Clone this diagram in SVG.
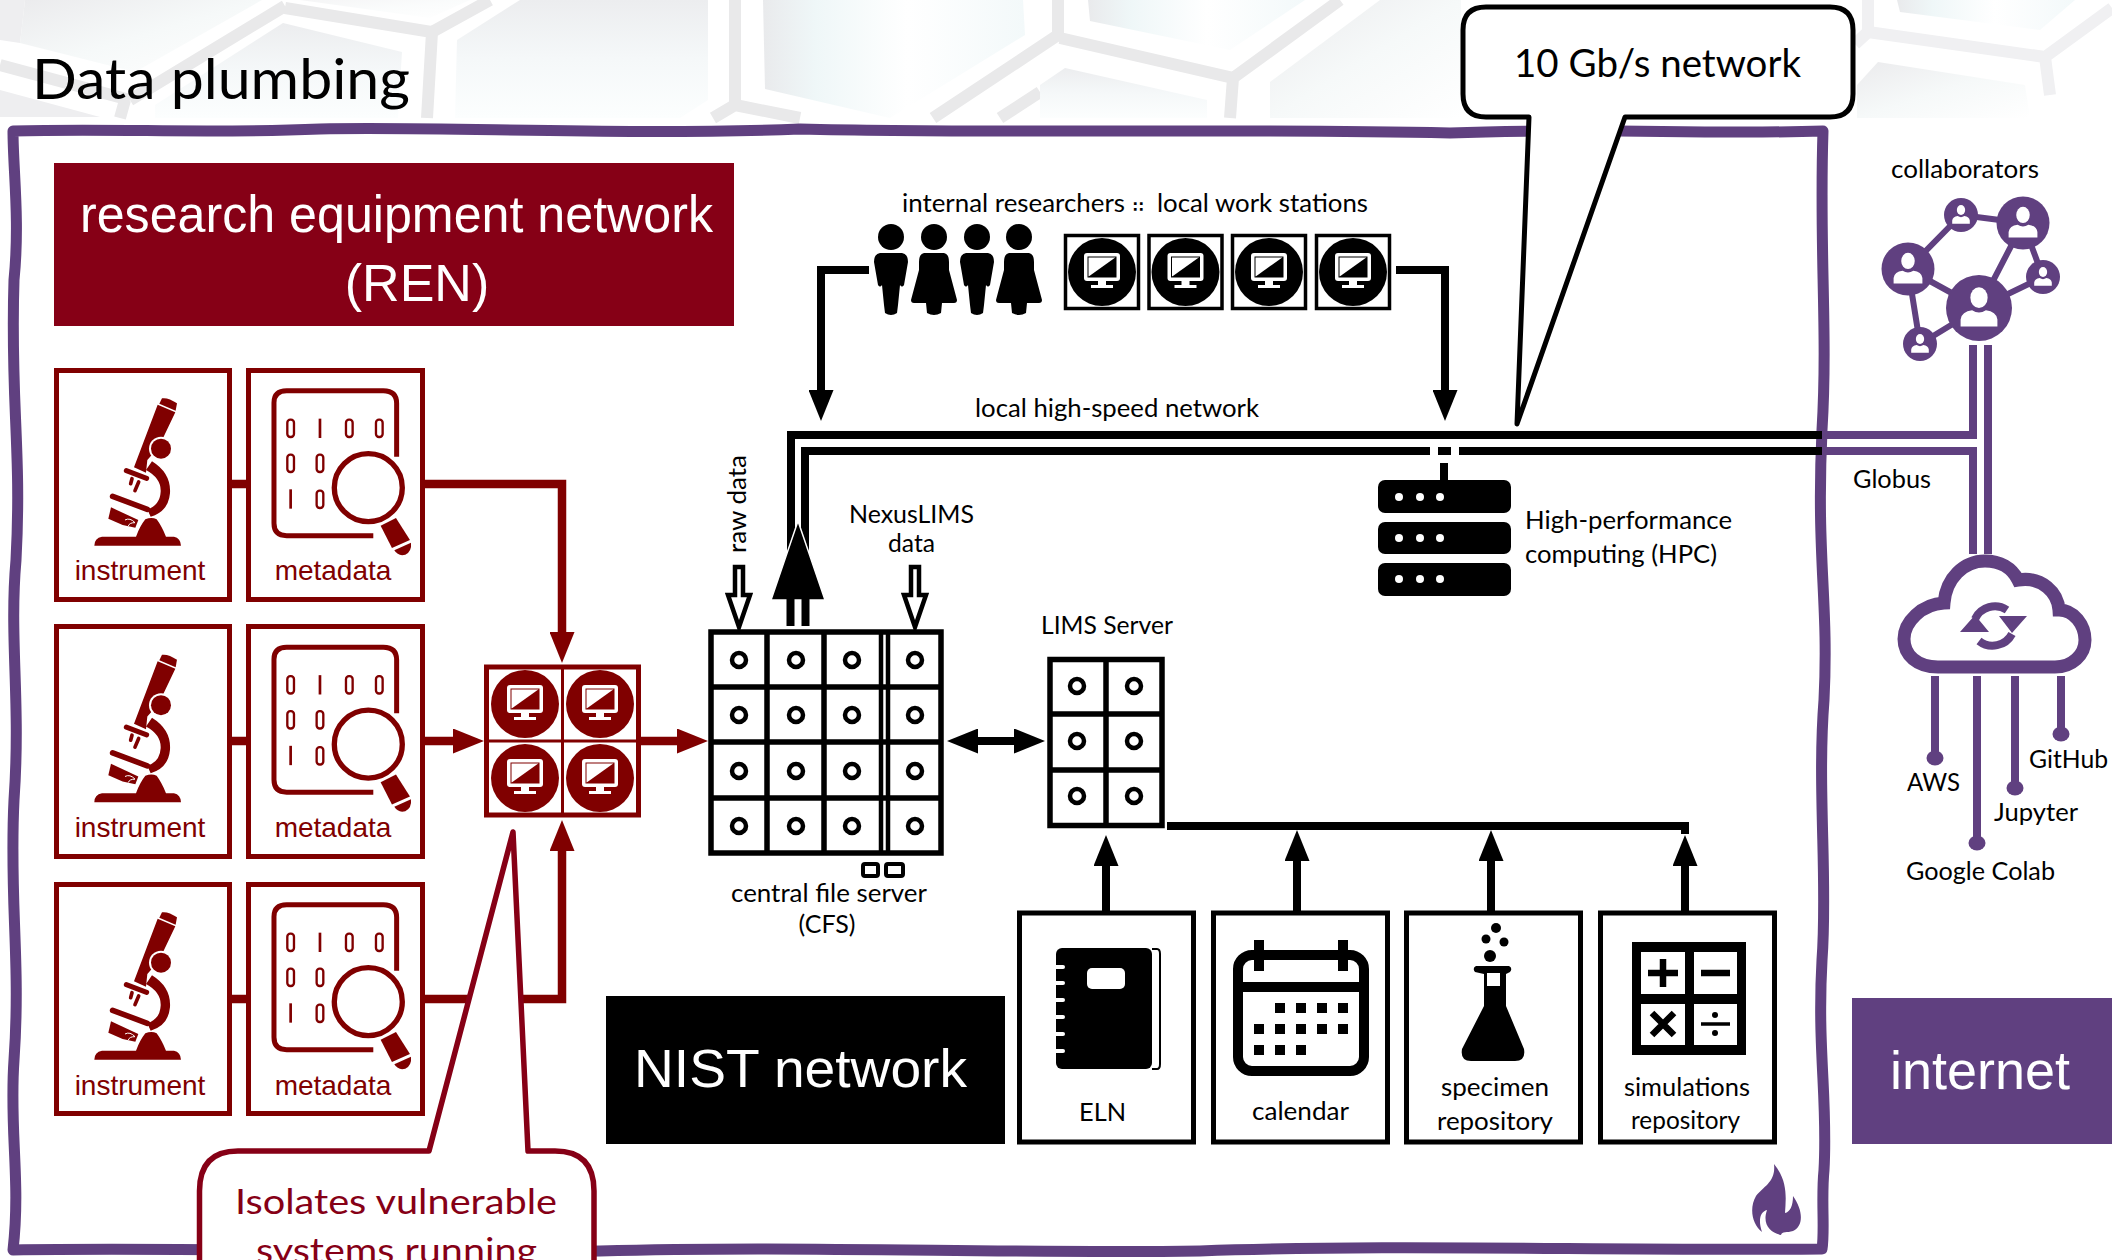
<svg xmlns="http://www.w3.org/2000/svg" width="2112" height="1260" viewBox="0 0 2112 1260">
<style>
.l{font-family:Lato,"Liberation Sans",sans-serif}
.a{font-family:"Liberation Sans",Arial,sans-serif}
.s{font-size:25px;fill:#000}
.m{font-size:28px;fill:#800000;text-anchor:middle}
.w{fill:#fff}
.box{fill:#fff;stroke:#800000;stroke-width:5}
.kbox{fill:#fff;stroke:#000;stroke-width:5}
.grid{fill:none;stroke:#000;stroke-width:5.5}
.ring{fill:none;stroke:#000;stroke-width:4.5}
.ml{fill:none;stroke:#800000;stroke-width:8.5}
.kl{fill:none;stroke:#000;stroke-width:8}
.pl{fill:none;stroke:#604080;stroke-width:8}
.band{fill:none;stroke:#e9e9ea;stroke-width:12}
.band2{fill:none;stroke:#f0f0f2;stroke-width:12}
</style>
<defs>
<linearGradient id="cell" x1="0" y1="0" x2="0" y2="1"><stop offset="0" stop-color="#ecedef"/><stop offset=".5" stop-color="#f5f8f9"/><stop offset="1" stop-color="#fcfefe"/></linearGradient>
<linearGradient id="cell2" x1="0" y1="0" x2="1" y2="0"><stop offset="0" stop-color="#e9eaec"/><stop offset=".2" stop-color="#eff7f8"/><stop offset=".55" stop-color="#fff"/><stop offset="1" stop-color="#f3f9fa"/></linearGradient>
<linearGradient id="cell3" x1="0" y1="0" x2="1" y2="1"><stop offset="0" stop-color="#ebebed"/><stop offset=".5" stop-color="#f6f9f9"/><stop offset="1" stop-color="#fff"/></linearGradient>
<marker id="ah" markerUnits="userSpaceOnUse" markerWidth="31" markerHeight="25" refX="11" refY="12.5" orient="auto-start-reverse"><path d="M0 0L31 12.5L0 25Z" fill="#000"/></marker>
<marker id="am" markerUnits="userSpaceOnUse" markerWidth="31" markerHeight="25" refX="11" refY="12.5" orient="auto-start-reverse"><path d="M0 0L31 12.5L0 25Z" fill="#800000"/></marker>
<g id="scope" fill="#800000" stroke="none">
<path d="M103 557Q103 534 126 530L228 530Q240 498 256 478Q275 470 290 478Q305 498 318 530L342 530Q362 534 363 557Z"/>
<path d="M276 304Q334 340 330 400Q325 455 272 470L262 448Q300 435 302 395Q304 355 258 330Z"/>
<path d="M293 134L346 157L296 262L262 300L258 338L222 322Z"/>
<path d="M306 115Q325 112 351 130L347 152L298 131Z"/>
<circle cx="303" cy="266" r="36" fill="#fff"/><circle cx="303" cy="266" r="30"/>
<path d="M199 332L260 355" stroke="#800000" stroke-width="15" stroke-linecap="round" fill="none"/>
<path d="M216 356L212 371M236 366L225 392" stroke="#800000" stroke-width="11" stroke-linecap="round" fill="none"/>
<path d="M158 409L262 448" stroke="#800000" stroke-width="17" stroke-linecap="round" fill="none"/>
<path d="M153 442L235 480L226 503L188 495L145 476Z"/>
<path d="M195 480Q210 472 225 488Q208 488 205 498" stroke="#fff" stroke-width="3" fill="none"/>
</g>
<g id="meta" fill="#800000">
<path d="M940 527L680 527Q642 527 642 490L642 128Q642 92 680 92L970 92Q1010 92 1010 130L1010 290" fill="none" stroke="#800000" stroke-width="15"/>
<rect x="682" y="179" width="20" height="52" rx="9" fill="none" stroke="#800000" stroke-width="7"/>
<rect x="776" y="176" width="8" height="58"/>
<rect x="858" y="179" width="20" height="52" rx="9" fill="none" stroke="#800000" stroke-width="7"/>
<rect x="948" y="179" width="20" height="52" rx="9" fill="none" stroke="#800000" stroke-width="7"/>
<rect x="682" y="284" width="20" height="52" rx="9" fill="none" stroke="#800000" stroke-width="7"/>
<rect x="770" y="284" width="20" height="52" rx="9" fill="none" stroke="#800000" stroke-width="7"/>
<rect x="688" y="388" width="8" height="58"/>
<rect x="770" y="392" width="20" height="52" rx="9" fill="none" stroke="#800000" stroke-width="7"/>
<circle cx="925" cy="383" r="110" fill="#fff"/>
<circle cx="925" cy="383" r="102" fill="none" stroke="#800000" stroke-width="16"/>
<path d="M962 497L1008 474L1050 540L996 564Z"/>
<path d="M1003 571L1053 548Q1056 574 1036 584Q1015 590 1003 571Z"/>
</g>
<g id="mon" style="color:inherit">
<rect x="-18" y="-17" width="36" height="28" rx="3" fill="#fff"/>
<rect x="-14" y="-13" width="28" height="20" fill="#fff" stroke="currentColor" stroke-width="1"/>
<path d="M-14 7L14 -13V7Z" fill="currentColor"/>
<rect x="-4" y="11" width="8" height="6" fill="#fff"/>
<rect x="-11" y="15" width="22" height="3" fill="#fff"/>
</g>
<path id="male" d="M-11 253H11Q17 254 17 262L13 285Q11 288 9 285L7 305L6 313Q0 317 -6 313L-7 305L-9 285Q-11 288 -13 285L-17 262Q-17 254 -11 253Z"/>
<path id="female" d="M-10 253H10Q15 254 15 262L15 270L23 300Q23 303 20 303L8 303L7 313Q0 317 -7 313L-8 303L-20 303Q-23 303 -23 300L-15 270L-15 262Q-15 254 -10 253Z"/>
<g id="pers" fill="#fff"><ellipse cx="0" cy="-9" rx="7.5" ry="9"/><path d="M-16 16V10Q-15 3 -6 2Q0 6 6 2Q15 3 16 10V16Z"/></g>
</defs>

<rect width="2112" height="1260" fill="#fff"/>
<g id="background">
<path d="M0 0H25L20 43L0 40Z" fill="#eeeef0"/>
<path d="M25 0L20 43L135 72L262 0Z" fill="url(#cell3)"/>
<path d="M0 90L100 117H0Z" fill="#eeeef0"/>
<path d="M155 105L283 23L402 52L398 118H155Z" fill="url(#cell)"/>
<path d="M0 65L130 100M125 100L120 118M130 100L285 6M285 8L432 32L427 118M432 32L490 0" class="band"/>
<path d="M300 0L430 18L470 0Z" fill="url(#cell3)" opacity=".5"/>
<path d="M457 40L520 0H708V100L680 118H455Z" fill="url(#cell)"/>
<path d="M735 0V105L713 118M735 105L800 118" class="band"/>
<path d="M763 0L765 89L890 118L1025 35L1023 0Z" fill="url(#cell2)"/>
<path d="M933 118L1040 47L1058 35V0M1060 38L1233 78L1230 118M1233 78L1340 0" class="band"/>
<path d="M1000 118L1040 92" class="band"/>
<path d="M1088 0L1090 21L1230 50L1305 0Z" fill="url(#cell2)"/>
<path d="M1040 85L1065 68L1207 100V118H1040Z" fill="url(#cell)"/>
<path d="M1270 82L1380 0H1461V118H1270Z" fill="url(#cell3)"/>
<path d="M1868 0V32L1855 44M1868 32L2045 57L2050 95M2045 57L2112 8" class="band2"/>
<path d="M1897 0L1900 12L2040 30L2075 0Z" fill="url(#cell2)"/>
<path d="M1857 85L1878 62L2025 85L2030 118H1857Z" fill="url(#cell3)"/>
</g>
<text id="title" class="l" x="32" y="99" font-size="57" fill="#000" textLength="378" lengthAdjust="spacingAndGlyphs">Data plumbing</text>

<path id="frame" fill="none" stroke="#604080" stroke-width="11" stroke-linejoin="round" d="M13 131C120 128 200 134 320 129C440 126 620 136 800 129C1000 134 1200 128 1450 133C1600 127 1700 135 1823 131C1819 250 1828 330 1822 430C1816 560 1829 600 1824 700C1817 790 1828 880 1822 960C1817 1050 1828 1100 1824 1170C1821 1200 1825 1230 1822 1249C1600 1251 1400 1244 1200 1251C1000 1254 800 1245 600 1251C400 1254 200 1247 13 1250C21 1180 9 1130 14 1060C21 960 9 900 14 800C21 700 9 640 16 560C22 450 10 400 14 280C20 220 13 170 13 131Z"/>

<g id="connectors">
<path class="ml" d="M232 484H246M232 741H246M232 999H246"/>
<path class="ml" marker-end="url(#am)" d="M425 484H562V643"/>
<path class="ml" marker-end="url(#am)" d="M425 741H464"/>
<path class="ml" marker-end="url(#am)" d="M425 999H562V840"/>
<path class="ml" marker-end="url(#am)" d="M641 741H688"/>
<path class="kl" marker-end="url(#ah)" d="M869 270H821V401"/>
<path class="kl" marker-end="url(#ah)" d="M1396 270H1445V401"/>
<path class="kl" stroke-width="8.7" d="M791 560V435H1822"/>
<path class="kl" stroke-width="8.3" d="M805 560V451H1430M1438 451H1451M1459 451H1822"/>
<path class="kl" d="M1444 463V482"/>
<path d="M798 521L825 600H771Z" fill="#000" stroke="#fff" stroke-width="1.5"/>
<path class="kl" d="M790.500 598V626M805.500 598V626"/>
<path d="M735 567H743V595H750L739 627L728 595H735Z" fill="#fff" stroke="#000" stroke-width="4.500"/>
<path d="M911 567H919V595H926L915 627L904 595H911Z" fill="#fff" stroke="#000" stroke-width="4.500"/>
<path class="kl" marker-start="url(#ah)" marker-end="url(#ah)" d="M967 741H1025"/>
<path class="kl" d="M1167 826H1685V834"/>
<path class="kl" marker-end="url(#ah)" d="M1106 912V855"/>
<path class="kl" marker-end="url(#ah)" d="M1297 912V850"/>
<path class="kl" marker-end="url(#ah)" d="M1491 912V850"/>
<path class="kl" marker-end="url(#ah)" d="M1685 912V855"/>
<path class="pl" d="M1822 435H1973V345M1822 451H1973V554M1988 345V554"/>
<path class="pl" d="M1935 676V752M1977 676V838M2015 676V783M2061 676V729"/>
<g fill="#604080"><ellipse cx="1935" cy="758" rx="8.500" ry="7.500"/><ellipse cx="1977" cy="843" rx="8.500" ry="7.500"/><ellipse cx="2015" cy="788" rx="8.500" ry="7.500"/><ellipse cx="2061" cy="734" rx="8.500" ry="7.500"/></g>
</g>

<g id="ren-label"><rect x="54" y="163" width="680" height="163" fill="#860016"/>
<text class="a w" x="80" y="232" font-size="52" textLength="633" lengthAdjust="spacingAndGlyphs">research equipment network</text>
<text class="a w" x="417" y="301" font-size="52" text-anchor="middle">(REN)</text></g>

<g id="instrument-1"><rect class="box" x="56.500" y="370.500" width="173" height="229"/><use href="#scope" transform="translate(60 360) scale(.3333)"/><text class="a m" x="140" y="580">instrument</text></g>
<g id="metadata-1"><rect class="box" x="248.500" y="370.500" width="174" height="229"/><use href="#meta" transform="translate(60 360) scale(.3333)"/><text class="a m" x="333" y="580">metadata</text></g>
<g id="instrument-2"><rect class="box" x="56.500" y="626.500" width="173" height="230"/><use href="#scope" transform="translate(60 616.500) scale(.3333)"/><text class="a m" x="140" y="837">instrument</text></g>
<g id="metadata-2"><rect class="box" x="248.500" y="626.500" width="174" height="230"/><use href="#meta" transform="translate(60 616.500) scale(.3333)"/><text class="a m" x="333" y="837">metadata</text></g>
<g id="instrument-3"><rect class="box" x="56.500" y="884.500" width="173" height="229"/><use href="#scope" transform="translate(60 874) scale(.3333)"/><text class="a m" x="140" y="1095">instrument</text></g>
<g id="metadata-3"><rect class="box" x="248.500" y="884.500" width="174" height="229"/><use href="#meta" transform="translate(60 874) scale(.3333)"/><text class="a m" x="333" y="1095">metadata</text></g>

<g id="ren-workstations" style="color:#800000">
<rect class="box" x="486.500" y="667" width="152" height="148"/>
<path d="M562.500 667V816M486 741H639" stroke="#800000" stroke-width="3" fill="none"/>
<g fill="#800000"><circle cx="525" cy="704" r="34"/><circle cx="600" cy="704" r="34"/><circle cx="525" cy="778" r="34"/><circle cx="600" cy="778" r="34"/></g>
<use href="#mon" x="525" y="702"/><use href="#mon" x="600" y="702"/><use href="#mon" x="525" y="776"/><use href="#mon" x="600" y="776"/>
</g>

<g id="cfs">
<rect class="grid" x="711" y="632" width="230" height="221" fill="#fff"/>
<path class="grid" d="M767 632V853M824 632V853M711 687H941M711 742H941M711 798H941"/>
<path d="M881 632V853M888 632V853" stroke="#000" stroke-width="4.500" fill="none"/>
<g class="ring"><circle cx="739" cy="660" r="7"/><circle cx="796" cy="660" r="7"/><circle cx="852" cy="660" r="7"/><circle cx="915" cy="660" r="7"/><circle cx="739" cy="715" r="7"/><circle cx="796" cy="715" r="7"/><circle cx="852" cy="715" r="7"/><circle cx="915" cy="715" r="7"/><circle cx="739" cy="771" r="7"/><circle cx="796" cy="771" r="7"/><circle cx="852" cy="771" r="7"/><circle cx="915" cy="771" r="7"/><circle cx="739" cy="826" r="7"/><circle cx="796" cy="826" r="7"/><circle cx="852" cy="826" r="7"/><circle cx="915" cy="826" r="7"/></g>
<rect x="863" y="864" width="15" height="12" rx="2" fill="#fff" stroke="#000" stroke-width="4"/><rect x="886" y="864" width="17" height="12" rx="2" fill="#fff" stroke="#000" stroke-width="4"/>
<text class="l s" x="731" y="902" textLength="196" lengthAdjust="spacingAndGlyphs">central file server</text>
<text class="l s" x="827" y="933" text-anchor="middle">(CFS)</text>
<text class="l s" transform="translate(746 553) rotate(-90)" textLength="98" lengthAdjust="spacingAndGlyphs">raw data</text>
<text class="l s" x="849" y="523" textLength="125" lengthAdjust="spacingAndGlyphs">NexusLIMS</text>
<text class="l s" x="888" y="552" textLength="47" lengthAdjust="spacingAndGlyphs">data</text>
</g>

<g id="lims">
<rect class="grid" x="1050" y="659.500" width="112" height="166" fill="#fff"/>
<path class="grid" d="M1106 659V826M1050 714H1162M1050 770H1162"/>
<g class="ring"><circle cx="1077" cy="686" r="7"/><circle cx="1134" cy="686" r="7"/><circle cx="1077" cy="741" r="7"/><circle cx="1134" cy="741" r="7"/><circle cx="1077" cy="796" r="7"/><circle cx="1134" cy="796" r="7"/></g>
<text class="l s" x="1041" y="634" textLength="132" lengthAdjust="spacingAndGlyphs">LIMS Server</text>
</g>

<g id="researchers">
<text class="l s" x="902" y="212" textLength="223" lengthAdjust="spacingAndGlyphs">internal researchers</text>
<text x="1133" y="212" font-family="DejaVu Sans,sans-serif" font-weight="700" font-size="15" fill="#000">∷</text>
<text class="l s" x="1157" y="212" textLength="211" lengthAdjust="spacingAndGlyphs">local work stations</text>
<g fill="#000"><circle cx="891" cy="237" r="13"/><circle cx="934" cy="237" r="13"/><circle cx="977" cy="237" r="13"/><circle cx="1019" cy="237" r="13"/>
<use href="#male" x="891"/><use href="#female" x="934"/><use href="#male" x="977"/><use href="#female" x="1019"/></g>
</g>
<g id="workstations" style="color:#000">
<g fill="#fff" stroke="#000" stroke-width="3.500"><rect x="1065.500" y="235.500" width="73" height="73"/><rect x="1149" y="235.500" width="73" height="73"/><rect x="1232.500" y="235.500" width="73" height="73"/><rect x="1316.500" y="235.500" width="73" height="73"/></g>
<g fill="#000"><circle cx="1102" cy="272" r="34"/><circle cx="1185.500" cy="272" r="34"/><circle cx="1269" cy="272" r="34"/><circle cx="1353" cy="272" r="34"/></g>
<use href="#mon" x="1102" y="270"/><use href="#mon" x="1185.500" y="270"/><use href="#mon" x="1269" y="270"/><use href="#mon" x="1353" y="270"/>
</g>
<text id="network-label" class="l s" x="975" y="417" textLength="284" lengthAdjust="spacingAndGlyphs">local high-speed network</text>

<g id="hpc">
<g fill="#000"><rect x="1378" y="480" width="133" height="33" rx="7"/><rect x="1378" y="522" width="133" height="32" rx="7"/><rect x="1378" y="563" width="133" height="33" rx="7"/></g>
<g fill="#fff"><circle cx="1399" cy="497" r="4"/><circle cx="1420" cy="497" r="4"/><circle cx="1440" cy="497" r="4"/><circle cx="1399" cy="538" r="4"/><circle cx="1420" cy="538" r="4"/><circle cx="1440" cy="538" r="4"/><circle cx="1399" cy="579" r="4"/><circle cx="1420" cy="579" r="4"/><circle cx="1440" cy="579" r="4"/></g>
<text class="l s" x="1525" y="529" textLength="207" lengthAdjust="spacingAndGlyphs">High-performance</text>
<text class="l s" x="1525" y="563" textLength="192" lengthAdjust="spacingAndGlyphs">computing (HPC)</text>
</g>

<g id="nist-label"><rect x="606" y="996" width="399" height="148" fill="#000"/><text class="a w" x="634" y="1087" font-size="54" textLength="333" lengthAdjust="spacingAndGlyphs">NIST network</text></g>

<g id="eln"><rect class="kbox" x="1019.500" y="913" width="174" height="229"/>
<path d="M1152 949H1157Q1160 949 1160 954V1064Q1160 1069 1157 1069H1152" fill="none" stroke="#000" stroke-width="2"/>
<rect x="1056" y="948" width="96" height="121" rx="6" fill="#000"/>
<rect x="1087" y="968" width="38" height="21" rx="5" fill="#fff"/>
<g fill="#fff"><rect x="1054" y="965" width="11" height="4" rx="2"/><rect x="1054" y="981" width="11" height="4" rx="2"/><rect x="1054" y="998" width="11" height="4" rx="2"/><rect x="1054" y="1015" width="11" height="4" rx="2"/><rect x="1054" y="1032" width="11" height="4" rx="2"/><rect x="1054" y="1049" width="11" height="4" rx="2"/></g>
<text class="l s" x="1079" y="1121" textLength="47" lengthAdjust="spacingAndGlyphs">ELN</text></g>

<g id="calendar"><rect class="kbox" x="1213.500" y="913" width="174" height="229"/>
<rect x="1238" y="955" width="126" height="116" rx="14" fill="none" stroke="#000" stroke-width="10"/>
<path d="M1238 987H1364M1259 940V971M1343 940V971" stroke="#000" stroke-width="10" fill="none"/>
<path d="M1275 1003h10v10h-10zM1296 1003h10v10h-10zM1317 1003h10v10h-10zM1338 1003h10v10h-10zM1254 1024h10v10h-10zM1275 1024h10v10h-10zM1296 1024h10v10h-10zM1317 1024h10v10h-10zM1338 1024h10v10h-10zM1254 1045h10v10h-10zM1275 1045h10v10h-10zM1296 1045h10v10h-10z" fill="#000"/>
<text class="l s" x="1252" y="1120" textLength="97" lengthAdjust="spacingAndGlyphs">calendar</text></g>

<g id="specimen"><rect class="kbox" x="1406.500" y="913" width="174" height="229"/>
<path d="M1476 966H1509Q1513 968 1510 972L1506 974V1006L1524 1049Q1526 1061 1515 1061H1471Q1460 1061 1462 1049L1484 1006V974L1475 972Q1472 968 1476 966Z" fill="#000"/>
<rect x="1487" y="973" width="13" height="13" fill="#fff"/>
<g fill="#000"><circle cx="1490" cy="956" r="6"/><circle cx="1486" cy="939" r="4.500"/><circle cx="1504" cy="942" r="4.500"/><circle cx="1496" cy="928" r="5"/></g>
<text class="l s" x="1441" y="1095.500" textLength="108" lengthAdjust="spacingAndGlyphs">specimen</text>
<text class="l s" x="1437" y="1129.500" textLength="116" lengthAdjust="spacingAndGlyphs">repository</text></g>

<g id="simulations"><rect class="kbox" x="1600.500" y="913" width="174" height="229"/>
<rect x="1632" y="942" width="114" height="113" fill="#000"/>
<g fill="#fff"><rect x="1641" y="952" width="44" height="42"/><rect x="1694" y="952" width="43" height="42"/><rect x="1641" y="1004" width="44" height="41"/><rect x="1694" y="1004" width="43" height="41"/></g>
<path d="M1648 973H1678M1663 959V987M1701 973H1730M1652 1013L1674 1035M1674 1013L1652 1035" stroke="#000" stroke-width="6.500" fill="none"/>
<path d="M1701 1024H1730" stroke="#000" stroke-width="3.500"/><circle cx="1715" cy="1015" r="3"/><circle cx="1715" cy="1033" r="3"/>
<text class="l s" x="1624" y="1095.500" textLength="126" lengthAdjust="spacingAndGlyphs">simulations</text>
<text class="l s" x="1631" y="1128.500" textLength="109" lengthAdjust="spacingAndGlyphs">repository</text></g>

<path id="flame" fill="#604080" d="M1774 1164C1788 1181 1786 1198 1785 1213C1790 1212 1793 1206 1793 1196C1803 1210 1804 1226 1793 1231C1787 1233 1782 1231 1781 1235C1770 1233 1762 1224 1767 1210C1760 1212 1758 1220 1762 1232C1752 1224 1749 1208 1756 1196C1764 1186 1776 1182 1774 1164Z"/>

<g id="collaborators">
<text class="l s" x="1891" y="178" textLength="148" lengthAdjust="spacingAndGlyphs">collaborators</text>
<path d="M1961 215L2023 223M1961 215L1908 269M1908 269L1979 308M1908 269L1920 344M1920 344L1979 308M1979 308L2023 223M1979 308L2043 277M2043 277L2023 223" stroke="#604080" stroke-width="6" fill="none"/>
<g fill="#604080"><circle cx="1979" cy="308" r="33"/><circle cx="2023" cy="223" r="26.500"/><circle cx="1961" cy="215" r="17"/><circle cx="1908" cy="269" r="26.500"/><circle cx="2043" cy="277" r="17"/><circle cx="1920" cy="344" r="17"/></g>
<use href="#pers" transform="translate(1979 308) scale(1.15)"/><use href="#pers" transform="translate(2023 223) scale(.9)"/><use href="#pers" transform="translate(1961 215) scale(.55)"/><use href="#pers" transform="translate(1908 269) scale(.9)"/><use href="#pers" transform="translate(2043 277) scale(.55)"/><use href="#pers" transform="translate(1920 344) scale(.55)"/>
</g>
<text id="globus" class="l s" x="1853" y="488" textLength="78" lengthAdjust="spacingAndGlyphs">Globus</text>

<g id="cloud">
<path d="M1938 667C1917 667 1904 655 1904 639C1904 622 1922 604 1944 603C1946 578 1964 561 1985 561C2000 561 2012 568 2018 580C2042 576 2058 593 2059 610C2074 610 2085 625 2085 640C2085 655 2072 667 2055 667Z" fill="#fff" stroke="#604080" stroke-width="13"/>
<path d="M1975 619A22 22 0 0 1 2007 610M2012 634A22 22 0 0 1 1979 641" fill="none" stroke="#604080" stroke-width="8"/>
<path d="M1999 616H2027L2012 633ZM1960 632H1989L1975 615Z" fill="#604080"/>
<text class="l s" x="1907" y="791" textLength="53" lengthAdjust="spacingAndGlyphs">AWS</text>
<text class="l s" x="1994" y="821" textLength="84" lengthAdjust="spacingAndGlyphs">Jupyter</text>
<text class="l s" x="2029" y="768" textLength="79" lengthAdjust="spacingAndGlyphs">GitHub</text>
<text class="l s" x="1906" y="880" textLength="149" lengthAdjust="spacingAndGlyphs">Google Colab</text>
</g>

<g id="internet-label"><rect x="1852" y="998" width="260" height="146" fill="#604080"/><text class="a w" x="1890" y="1089" font-size="54" textLength="180" lengthAdjust="spacingAndGlyphs">internet</text></g>

<g id="callout-10gb">
<path d="M1486 7H1830Q1853 7 1853 30V94Q1853 117 1830 117H1625L1517 424L1529 117H1486Q1463 117 1463 94V30Q1463 7 1486 7Z" fill="#fff" stroke="#000" stroke-width="5" stroke-linejoin="round"/>
<text class="l" x="1514" y="77" font-size="38" fill="#000" textLength="287" lengthAdjust="spacingAndGlyphs">10 Gb/s network</text>
</g>

<g id="callout-isolates">
<path d="M238 1151H429L513 832L528 1151H555Q594 1151 594 1191V1280H199.500V1191Q199.500 1151 238 1151Z" fill="#fff" stroke="#860016" stroke-width="5.500" stroke-linejoin="round"/>
<text class="l" x="235" y="1214" font-size="35" fill="#860016" textLength="322" lengthAdjust="spacingAndGlyphs">Isolates vulnerable</text>
<text class="l" x="256" y="1263" font-size="35" fill="#860016" textLength="281" lengthAdjust="spacingAndGlyphs">systems running</text>
</g>
</svg>
